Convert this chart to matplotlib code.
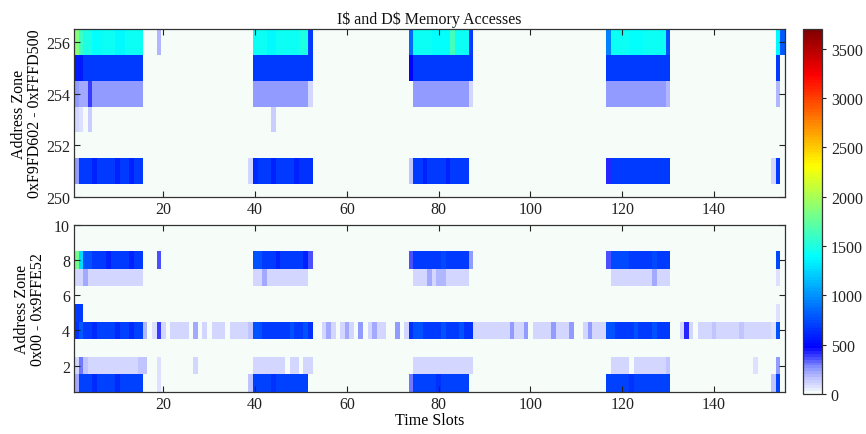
import numpy as np
import matplotlib
matplotlib.use("Agg")
import matplotlib.pyplot as plt
from matplotlib.colors import LinearSegmentedColormap

plt.rcParams['font.family'] = ['Liberation Serif', 'DejaVu Serif']

# ---------------- data ----------------
n_slots = 155
vmax = 3700

top_rows = [250, 251, 252, 253, 254, 255, 256]
bottom_rows = [1, 2, 3, 4, 5, 6, 7, 8, 9, 10]

# runs: (first time slot, last time slot, access count)
top_256 = [(1, 1, 1850), (2, 2, 1600), (3, 4, 1480), (5, 6, 1400), (7, 9, 1440), (10, 11, 1380),
           (12, 15, 1430), (19, 19, 180),
           (40, 42, 1430), (43, 44, 1380), (45, 49, 1430), (50, 51, 1480), (52, 52, 680),
           (74, 74, 850), (75, 78, 1430), (79, 82, 1390), (83, 83, 1620), (84, 86, 1420), (87, 87, 680),
           (117, 117, 950), (118, 121, 1430), (122, 124, 1390), (125, 129, 1440), (130, 130, 760),
           (154, 154, 1380), (155, 155, 800)]
top_255 = [(1, 2, 560), (3, 15, 690), (40, 52, 690), (74, 74, 480), (75, 87, 690),
           (117, 130, 690), (154, 154, 690)]
top_254 = [(1, 1, 260), (2, 3, 230), (4, 4, 400), (5, 15, 260), (40, 51, 260), (52, 52, 110),
           (75, 86, 260), (87, 87, 110), (117, 129, 260), (130, 130, 200), (154, 154, 200)]
top_253 = [(1, 1, 110), (2, 2, 80), (4, 4, 130), (44, 44, 120)]
top_251 = [(1, 1, 260), (2, 4, 680), (5, 5, 600), (6, 9, 680), (10, 10, 600), (11, 12, 680),
           (13, 13, 600), (14, 15, 680), (39, 39, 100),
           (40, 40, 620), (41, 43, 680), (44, 44, 600), (45, 48, 680), (49, 49, 600), (50, 52, 660),
           (74, 74, 160), (75, 76, 680), (77, 77, 600), (78, 81, 680), (82, 82, 600), (83, 86, 680),
           (117, 117, 420), (118, 130, 680), (153, 153, 100), (154, 154, 680)]

bot_8 = [(1, 1, 1800), (2, 2, 1250), (3, 4, 760), (5, 7, 670), (8, 8, 600), (9, 12, 670),
         (13, 13, 600), (14, 15, 670), (19, 19, 350),
         (40, 41, 760), (42, 44, 670), (45, 45, 600), (46, 50, 670), (51, 51, 600), (52, 52, 350),
         (74, 74, 350), (75, 80, 680), (81, 81, 740), (82, 86, 670), (87, 87, 250),
         (117, 117, 350), (118, 121, 740), (122, 126, 670), (127, 127, 740), (128, 130, 670),
         (154, 154, 740)]
bot_7 = [(1, 2, 90), (3, 3, 220), (4, 15, 90), (40, 41, 90), (42, 42, 220), (43, 51, 90),
         (75, 77, 90), (78, 78, 220), (79, 79, 90), (80, 81, 200), (82, 86, 90),
         (118, 126, 90), (127, 127, 220), (128, 130, 90), (154, 154, 80)]
bot_5 = [(1, 2, 680), (154, 154, 80)]
bot_4 = [(1, 1, 660), (2, 2, 800), (3, 4, 690), (5, 5, 610), (6, 9, 700), (10, 10, 610),
         (11, 12, 700), (13, 13, 610), (14, 15, 700), (16, 16, 200), (18, 18, 80), (19, 19, 380),
         (20, 20, 90), (22, 25, 90), (27, 27, 220), (29, 29, 90), (31, 33, 90), (35, 38, 90),
         (39, 39, 160),
         (40, 41, 780), (42, 47, 690), (48, 48, 780), (49, 50, 690), (51, 51, 780), (52, 52, 660),
         (55, 55, 90), (56, 56, 220), (57, 57, 90), (59, 59, 90), (60, 60, 220), (61, 61, 90),
         (63, 63, 250), (65, 65, 90), (66, 66, 220), (67, 68, 90), (71, 71, 250), (73, 73, 90),
         (74, 74, 660), (75, 76, 780), (77, 80, 690), (81, 81, 780), (82, 84, 690), (85, 85, 780),
         (86, 87, 660), (88, 88, 90),
         (89, 95, 90), (96, 96, 250), (97, 98, 90), (99, 99, 250), (101, 104, 90), (105, 105, 250),
         (106, 108, 90), (109, 109, 250), (112, 112, 90), (113, 113, 250), (114, 116, 90),
         (117, 118, 760), (119, 122, 690), (123, 123, 760), (124, 126, 690), (127, 127, 760),
         (128, 130, 690),
         (133, 133, 90), (134, 134, 420), (135, 135, 90), (137, 139, 90), (140, 140, 150),
         (141, 145, 90), (146, 146, 170), (147, 149, 90), (150, 152, 90), (153, 153, 70),
         (154, 154, 760)]
bot_2 = [(1, 1, 90), (2, 2, 300), (3, 3, 160), (4, 14, 90), (15, 16, 160), (19, 19, 80),
         (27, 27, 90), (40, 46, 90), (48, 49, 90), (51, 52, 90), (75, 87, 90),
         (118, 121, 90), (123, 129, 90), (130, 130, 160), (149, 149, 80), (154, 154, 250)]
bot_1 = [(1, 1, 220), (2, 4, 700), (5, 5, 620), (6, 9, 700), (10, 10, 620), (11, 15, 700),
         (19, 19, 70), (39, 39, 150), (40, 43, 720), (44, 44, 640), (45, 51, 720),
         (74, 74, 300), (75, 79, 720), (80, 80, 640), (81, 86, 720),
         (117, 121, 720), (122, 122, 640), (123, 130, 720), (153, 153, 150), (154, 154, 720)]

top_data = {256: top_256, 255: top_255, 254: top_254, 253: top_253, 251: top_251}
bottom_data = {8: bot_8, 7: bot_7, 5: bot_5, 4: bot_4, 2: bot_2, 1: bot_1}


def build(rows, runs_by_row):
    z = np.zeros((len(rows), n_slots))
    for r, runs in runs_by_row.items():
        i = rows.index(r)
        for s, e, v in runs:
            z[i, s - 1:e] = v
    return z


Z_top = build(top_rows, top_data)
Z_bot = build(bottom_rows, bottom_data)

# ---------------- colormap: white-to-blue low end + jet ----------------
anchors = [(0.0, (0.965, 0.992, 0.975)),
           (0.015, (0.87, 0.88, 1.0)),
           (0.04, (0.75, 0.77, 1.0)),
           (0.07, (0.52, 0.56, 1.0)),
           (0.125, (0.0, 0.0, 1.0)),
           (0.375, (0.0, 1.0, 1.0)),
           (0.625, (1.0, 1.0, 0.0)),
           (0.875, (1.0, 0.0, 0.0)),
           (1.0, (0.5, 0.0, 0.0))]
cmap = LinearSegmentedColormap.from_list('memjet', anchors, N=128)

# ---------------- figure ----------------
fig = plt.figure(figsize=(8.66, 4.35), dpi=100)
ax1 = fig.add_axes([0.0855, 0.545, 0.821, 0.386])
ax2 = fig.add_axes([0.0855, 0.0966, 0.821, 0.384])
cax = fig.add_axes([0.927, 0.092, 0.022, 0.839])

x_edges = np.arange(n_slots + 1) + 0.5
yt_edges = np.array(top_rows + [top_rows[-1] + 1]) - 0.5
yb_edges = np.array(bottom_rows + [bottom_rows[-1] + 1]) - 0.5

m1 = ax1.pcolormesh(x_edges, yt_edges, Z_top, cmap=cmap, vmin=0, vmax=vmax)
m2 = ax2.pcolormesh(x_edges, yb_edges, Z_bot, cmap=cmap, vmin=0, vmax=vmax)

ax1.set_xlim(0.5, n_slots + 0.5)
ax1.set_ylim(250, 256.5)
ax1.set_yticks([250, 252, 254, 256])
ax2.set_xlim(0.5, n_slots + 0.5)
ax2.set_ylim(0.5, 10)
ax2.set_yticks([2, 4, 6, 8, 10])

for ax in (ax1, ax2):
    ax.set_xticks(range(20, 141, 20))
    ax.tick_params(direction='in', top=True, right=True, length=4, width=0.8,
                   labelsize=11.5, colors='#222222', pad=3)
    for sp in ax.spines.values():
        sp.set_color('#333333')
        sp.set_linewidth(0.9)

ax1.set_title(r"I\$ and D\$ Memory Accesses", fontsize=11.5, pad=4, color='#111111')
ax1.set_ylabel("Address Zone\n0xF9FD602 - 0xFFFD500", fontsize=11.5, linespacing=1.0, labelpad=2)
ax2.set_ylabel("Address Zone\n0x00 - 0x9FFE52", fontsize=11.5, linespacing=1.0, labelpad=6)
ax2.set_xlabel("Time Slots", fontsize=11.5, labelpad=0)

cb = fig.colorbar(m1, cax=cax, ticks=range(0, 3501, 500))
cb.ax.tick_params(labelsize=11.5, length=3, width=0.8, colors='#222222')
cb.outline.set_edgecolor('#333333')
cb.outline.set_linewidth(0.9)

fig.savefig("out.png", dpi=100)
